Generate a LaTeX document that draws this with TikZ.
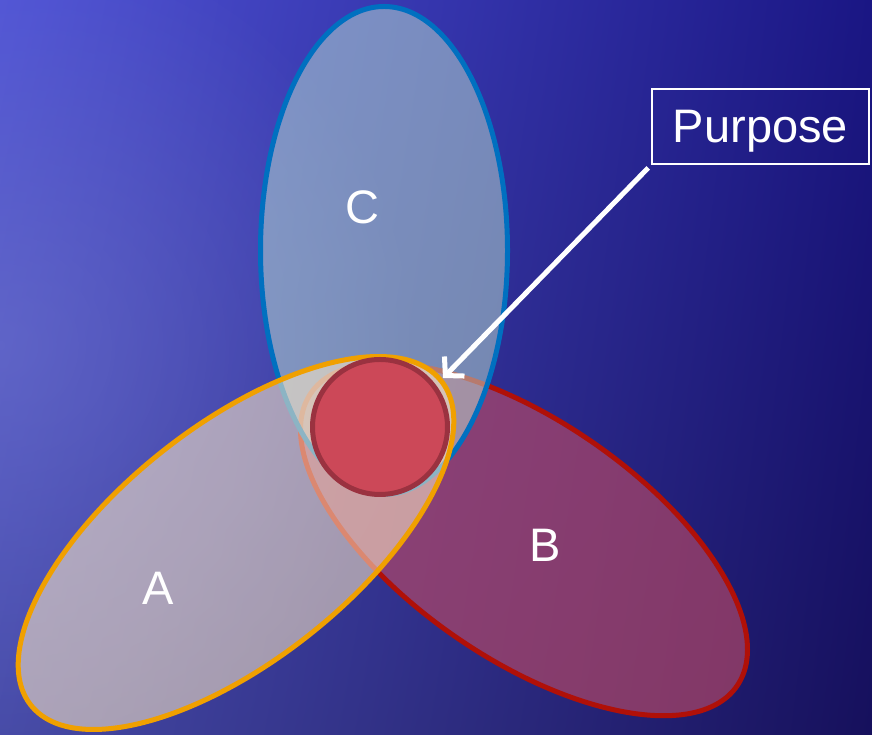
\documentclass[tikz,border=0pt]{standalone}
\usepackage{fontspec}
\setmainfont{Liberation Sans}
\usetikzlibrary{arrows.meta,shadings,fadings}
\definecolor{bgUL}{RGB}{80,84,214}
\definecolor{bgLL}{RGB}{70,74,166}
\definecolor{bgUR}{RGB}{26,22,132}
\definecolor{bgLR}{RGB}{22,16,92}
\definecolor{bgGlow}{RGB}{120,126,210}
\definecolor{cFill}{RGB}{190,228,212}
\definecolor{cLine}{RGB}{0,112,192}
\definecolor{aFill}{RGB}{255,236,200}
\definecolor{aLine}{RGB}{240,160,0}
\definecolor{bFill}{RGB}{185,73,102}
\definecolor{bLine}{RGB}{176,16,8}
\definecolor{pFill}{RGB}{204,72,88}
\definecolor{pLine}{RGB}{154,50,64}
\tikzfading[name=glowfade, inner color=transparent!55, outer color=transparent!100]
\begin{document}
\begin{tikzpicture}[x=1pt,y=1pt,
  blob/.style={line width=5pt},
  lbl/.style={text=white, font=\fontsize{47}{56}\selectfont, inner sep=0pt, text depth=0pt},
]
\useasboundingbox (0,0) rectangle (872,735);
\shade[upper left=bgUL, upper right=bgUR, lower left=bgLL, lower right=bgLR] (0,0) rectangle (872,735);
\begin{scope}
  \clip (0,0) rectangle (872,735);
  \fill[bgGlow, path fading=glowfade] (0,390) circle [radius=420];
\end{scope}
% B
\draw[blob, draw=bLine, fill=bFill, fill opacity=0.65, rotate around={-34.5:(524,195.5)}]
  (524,195.5) ellipse [x radius=258.5, y radius=119];
% C
\draw[blob, draw=cLine, fill=cFill, fill opacity=0.5]
  (384,484.5) ellipse [x radius=123.5, y radius=244];
% A
\draw[blob, draw=aLine, fill=aFill, fill opacity=0.55, rotate around={38.3:(236,192)}]
  (236,192) ellipse [x radius=261.5, y radius=117.5];
% centre circle
\draw[blob, draw=pLine, fill=pFill] (380,308) circle [radius=67.5];
% labels
\node[lbl] (labC) at (362,528) {C};
\node[lbl] (labA) at (158,147) {A};
\node[lbl] (labB) at (545,190) {B};
\node[lbl, draw=white, line width=2pt, minimum width=217pt, minimum height=75pt] (purpose) at (760.5,608.5) {Purpose};
\coordinate (tip) at (443,357);
\draw[white, line width=5pt, -{Straight Barb[length=13pt,width=28pt]}, shorten <=4pt] (purpose.south west) -- (tip);
\end{tikzpicture}
\end{document}
